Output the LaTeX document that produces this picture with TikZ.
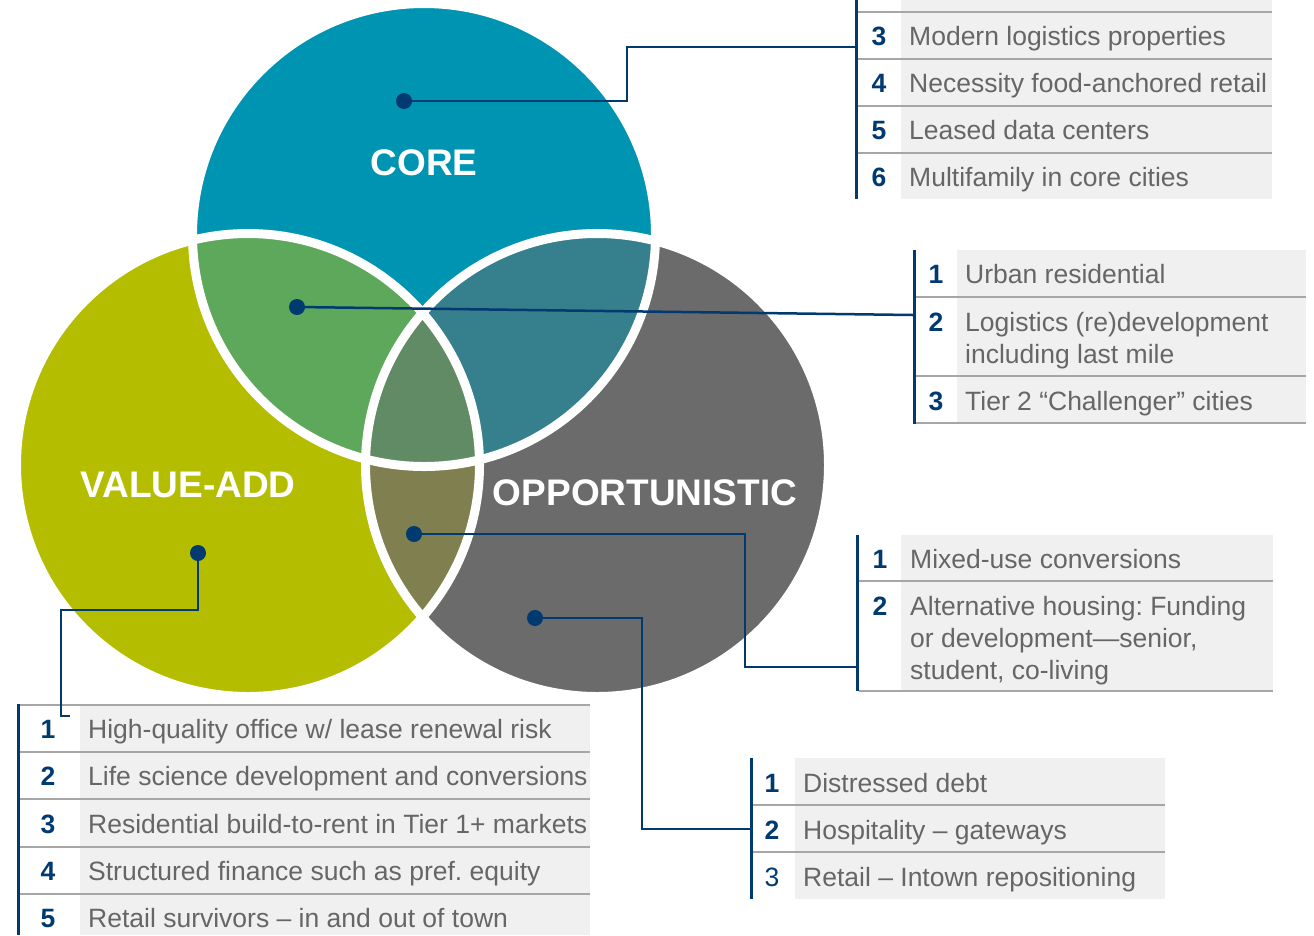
\documentclass[tikz,border=0pt]{standalone}
\usepackage{fontspec}
\setmainfont{Liberation Sans}
\frenchspacing
\definecolor{corec}{HTML}{0094B3}
\definecolor{vac}{HTML}{B5BD00}
\definecolor{oppc}{HTML}{6B6B6B}
\definecolor{cvc}{HTML}{5DA85B}
\definecolor{coc}{HTML}{367F8D}
\definecolor{voc}{HTML}{7F7F50}
\definecolor{allc}{HTML}{608B64}
\definecolor{navy}{HTML}{003A70}
\definecolor{txtgray}{HTML}{666666}
\definecolor{rowgray}{HTML}{F0F0F0}
\definecolor{sepgray}{HTML}{A6A6A6}
\begin{document}
\begin{tikzpicture}[x=1pt,y=-1pt,
  dot/.style={circle,fill=navy,minimum size=16pt,inner sep=0pt},
  conn/.style={draw=navy,line width=2.5pt},
  bar/.style={draw=navy,line width=3pt},
  sep/.style={draw=sepgray,line width=2pt},
  rowfill/.style={fill=rowgray},
  num/.style={anchor=base,inner sep=0pt,text=navy,font=\fontsize{26.5}{32}\selectfont\bfseries},
  numreg/.style={num,font=\fontsize{26.5}{32}\selectfont},
  item/.style={anchor=base west,inner sep=0pt,text=txtgray,font=\fontsize{26.5}{32}\selectfont,align=left},
  ring/.style={draw=white,line width=9pt},
  circlabel/.style={text=white,font=\fontsize{37}{40}\selectfont\bfseries}]
\useasboundingbox (0,0) rectangle (1314,935);

% circle centres and radius (the white ring eats half its width)
\def\rad{231.5pt}
\coordinate (C) at (424,235);
\coordinate (V) at (248,465);
\coordinate (O) at (597,465);

% base fills
\fill[corec] (C) circle (\rad);
\fill[vac] (V) circle (\rad);
\fill[oppc] (O) circle (\rad);
% pairwise overlaps
\begin{scope}\clip (C) circle (\rad); \fill[cvc] (V) circle (\rad);\end{scope}
\begin{scope}\clip (C) circle (\rad); \fill[coc] (O) circle (\rad);\end{scope}
\begin{scope}\clip (V) circle (\rad); \fill[voc] (O) circle (\rad);\end{scope}
% triple overlap
\begin{scope}\clip (C) circle (\rad); \clip (V) circle (\rad); \fill[allc] (O) circle (\rad);\end{scope}
% white separating rings
\draw[ring] (C) circle (\rad);
\draw[ring] (V) circle (\rad);
\draw[ring] (O) circle (\rad);

% circle titles
\node[circlabel] (lcore) at (424,163) {CORE};
\node[circlabel] (lva) at (188,485) {VALUE-ADD};
\node[circlabel] (lopp) at (645,493) {OPPORTUNISTIC};

% ---------- table: core ----------
\fill[rowfill] (901,0) rectangle (1272,199);
\foreach \y in {12,59,106,153} \draw[sep] (858,\y) -- (1272,\y);
\draw[bar] (856,0) -- (856,199);
\coordinate (t1in) at (855,47);
\node[num] (c3n) at (879,45) {3};
\node[item] (c3) at (909,45) {Modern logistics properties};
\node[num] (c4n) at (879,92) {4};
\node[item] (c4) at (909,92) {Necessity food-anchored retail};
\node[num] (c5n) at (879,139) {5};
\node[item] (c5) at (909,139) {Leased data centers};
\node[num] (c6n) at (879,186) {6};
\node[item] (c6) at (909,186) {Multifamily in core cities};

% ---------- table: core / value-add ----------
\fill[rowfill] (957,250) rectangle (1306,423);
\foreach \y in {297,376,423} \draw[sep] (916,\y) -- (1306,\y);
\draw[bar] (914,250) -- (914,424);
\coordinate (t2in) at (913,315);
\node[num] (a1n) at (936,283) {1};
\node[item] (a1) at (965,283) {Urban residential};
\node[num] (a2n) at (936,331) {2};
% multi-line items sit on the baseline of their last line
\node[item] (a2) at (965,363) {Logistics (re)development\\including last mile};
\node[num] (a3n) at (936,410) {3};
\node[item] (a3) at (965,410) {Tier 2 “Challenger” cities};

% ---------- table: value-add / opportunistic ----------
\fill[rowfill] (901,535) rectangle (1273,691);
\foreach \y in {581,691} \draw[sep] (859,\y) -- (1273,\y);
\draw[bar] (857,535) -- (857,691);
\coordinate (t3in) at (856,667);
\node[num] (b1n) at (880,568) {1};
\node[item] (b1) at (910,568) {Mixed-use conversions};
\node[num] (b2n) at (880,615) {2};
\node[item] (b2) at (910,679) {Alternative housing: Funding\\or development—senior,\\student, co-living};

% ---------- table: opportunistic ----------
\fill[rowfill] (795,758) rectangle (1165,899);
\foreach \y in {805,852} \draw[sep] (753,\y) -- (1165,\y);
\draw[bar] (751,758) -- (751,899);
\coordinate (t4in) at (750,829);
\node[num] (o1n) at (772,792) {1};
\node[item] (o1) at (803,792) {Distressed debt};
\node[num] (o2n) at (772,839) {2};
\node[item] (o2) at (803,839) {Hospitality – gateways};
\node[numreg] (o3n) at (772,886) {3};
\node[item] (o3) at (803,886) {Retail – Intown repositioning};

% ---------- table: value-add ----------
\fill[rowfill] (80,705) rectangle (590,935);
\foreach \y in {705,752,799,847,894} \draw[sep] (20,\y) -- (590,\y);
\draw[bar] (18,704) -- (18,935);
\coordinate (t5in) at (70,716);
\node[num] (v1n) at (48,738) {1};
\node[item] (v1) at (88,738) {High-quality office w/ lease renewal risk};
\node[num] (v2n) at (48,785) {2};
\node[item] (v2) at (88,785) {Life science development and conversions};
\node[num] (v3n) at (48,833) {3};
\node[item] (v3) at (88,833) {Residential build-to-rent in Tier 1+ markets};
\node[num] (v4n) at (48,880) {4};
\node[item] (v4) at (88,880) {Structured finance such as pref. equity};
\node[num] (v5n) at (48,927) {5};
\node[item] (v5) at (88,927) {Retail survivors – in and out of town};

% ---------- callout dots and leaders ----------
\node[dot] (dcore) at (404,101) {};
\node[dot] (dcv) at (297,307) {};
\node[dot] (dvo) at (414,534) {};
\node[dot] (dopp) at (535,618) {};
\node[dot] (dva) at (198,553) {};

\draw[conn] (dcore.center) -- ++(223,0) |- (t1in);
\draw[conn] (dcv.center) -- (t2in);
\draw[conn] (dvo.center) -- ++(331,0) |- (t3in);
\draw[conn] (dopp.center) -- ++(107,0) |- (t4in);
\draw[conn] (dva.center) -- ++(0,57) -- ++(-137,0) -- ++(0,106) -- (t5in);
\end{tikzpicture}
\end{document}
